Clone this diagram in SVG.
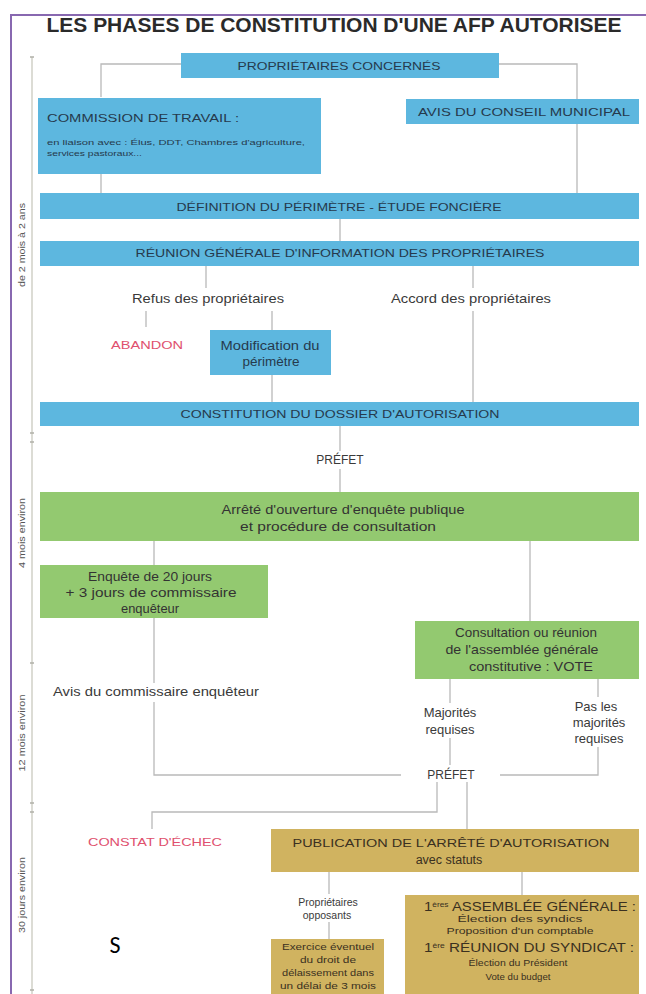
<svg xmlns="http://www.w3.org/2000/svg" width="646" height="994" viewBox="0 0 646 994">
<style>
text{font-family:"Liberation Sans",Arial,sans-serif;fill:#333;}
.t{font-weight:bold;font-size:20px;fill:#2a2a2a;}
.bl{fill:#5db7df;}
.gr{fill:#93c970;}
.go{fill:#d0b360;}
.bt{font-size:11.5px;fill:#263a4d;text-anchor:middle;}
.lt{font-size:13px;text-anchor:middle;fill:#3a3a3a;}
.sm{font-size:7.5px;fill:#263a4d;}
.red{font-size:11.5px;fill:#e0506e;text-anchor:middle;}
.gt{font-size:13px;text-anchor:middle;fill:#333;}
.ot{font-size:12.5px;text-anchor:middle;fill:#3a3020;}
.os{font-size:9.5px;text-anchor:middle;fill:#3a3020;}
.sl{font-size:10.5px;text-anchor:middle;fill:#3a3a3a;}
.tl{font-size:9.5px;fill:#555;text-anchor:middle;}
.ln{fill:none;stroke:#b9b9b9;stroke-width:1.3;}
</style>

<path d="M11,994 V15 H646" fill="none" stroke="#8868b0" stroke-width="2"/>
<text class="t" x="334" y="32" text-anchor="middle" textLength="575" lengthAdjust="spacingAndGlyphs">LES PHASES DE CONSTITUTION D'UNE AFP AUTORISEE</text>

<g id="timeline">
<path d="M32,57 V994" fill="none" stroke="#c9c9bf" stroke-width="1.3"/>
<path d="M30,57 h4 M30,433 h4 M30,442 h4 M30,663 h4 M30,803 h4 M30,812 h4 M30,990 h4" stroke="#b0b0a8" stroke-width="1.3"/>
<text class="tl" transform="translate(25,245) rotate(-90)" textLength="84" lengthAdjust="spacingAndGlyphs">de 2 mois à 2 ans</text>
<text class="tl" transform="translate(25,533) rotate(-90)" textLength="70" lengthAdjust="spacingAndGlyphs">4 mois environ</text>
<text class="tl" transform="translate(25,733) rotate(-90)" textLength="77" lengthAdjust="spacingAndGlyphs">12 mois environ</text>
<text class="tl" transform="translate(25,895) rotate(-90)" textLength="76" lengthAdjust="spacingAndGlyphs">30 jours environ</text>
</g>

<g id="connectors" class="ln">
<path d="M101,97 V64 H181"/>
<path d="M499,64 H577 V193"/>
<path d="M101,174 V193"/>
<path d="M340,219 V241"/>
<path d="M206,266 V288"/>
<path d="M473,266 V288"/>
<path d="M146,311 V327"/>
<path d="M272,311 V402"/>
<path d="M473,311 V402"/>
<path d="M340,426 V451"/>
<path d="M340,469 V492"/>
<path d="M154,541 V565"/>
<path d="M530,541 V621"/>
<path d="M154,618 V683"/>
<path d="M154,702 V775 H401"/>
<path d="M500,775 H598 V747"/>
<path d="M598,679 V697"/>
<path d="M450,679 V703"/>
<path d="M450,738 V765"/>
<path d="M437,782 V812 H152 V829"/>
<path d="M467,782 V829"/>
<path d="M329,872 V894"/>
<path d="M329,922 V939"/>
<path d="M522,872 V895"/>
</g>

<g id="proprietaires">
<rect class="bl" x="181" y="53" width="318" height="25"/>
<text class="bt" x="339" y="70" textLength="203" lengthAdjust="spacingAndGlyphs">PROPRIÉTAIRES CONCERNÉS</text>
</g>

<g id="commission">
<rect class="bl" x="38" y="98" width="283" height="76"/>
<text x="47" y="122" style="font-size:11.5px;fill:#263a4d" textLength="192" lengthAdjust="spacingAndGlyphs">COMMISSION DE TRAVAIL :</text>
<text class="sm" x="47" y="145" textLength="258" lengthAdjust="spacingAndGlyphs">en liaison avec : Élus, DDT, Chambres d'agriculture,</text>
<text class="sm" x="47" y="156" textLength="95" lengthAdjust="spacingAndGlyphs">services pastoraux...</text>
</g>

<g id="avis-conseil">
<rect class="bl" x="406" y="99" width="233" height="25"/>
<text class="bt" x="524" y="116" textLength="212" lengthAdjust="spacingAndGlyphs">AVIS DU CONSEIL MUNICIPAL</text>
</g>

<g id="definition">
<rect class="bl" x="40" y="193" width="599" height="26"/>
<text class="bt" x="339" y="211" textLength="325" lengthAdjust="spacingAndGlyphs">DÉFINITION DU PÉRIMÈTRE - ÉTUDE FONCIÈRE</text>
</g>

<g id="reunion">
<rect class="bl" x="40" y="241" width="599" height="25"/>
<text class="bt" x="340" y="257" textLength="409" lengthAdjust="spacingAndGlyphs">RÉUNION GÉNÉRALE D'INFORMATION DES PROPRIÉTAIRES</text>
</g>

<g id="refus">
<text class="lt" x="208" y="303" textLength="152" lengthAdjust="spacingAndGlyphs">Refus des propriétaires</text>
</g>

<g id="accord">
<text class="lt" x="471" y="303" textLength="160" lengthAdjust="spacingAndGlyphs">Accord des propriétaires</text>
</g>

<g id="abandon">
<text class="red" x="147" y="349" textLength="72" lengthAdjust="spacingAndGlyphs">ABANDON</text>
</g>

<g id="modification">
<rect class="bl" x="210" y="330" width="121" height="45"/>
<text class="gt" x="270" y="350" style="font-size:12.5px;fill:#263a4d" textLength="99" lengthAdjust="spacingAndGlyphs">Modification du</text>
<text class="gt" x="271" y="366" style="font-size:12.5px;fill:#263a4d" textLength="57" lengthAdjust="spacingAndGlyphs">périmètre</text>
</g>

<g id="constitution">
<rect class="bl" x="40" y="402" width="599" height="24"/>
<text class="bt" x="340" y="418" textLength="319" lengthAdjust="spacingAndGlyphs">CONSTITUTION DU DOSSIER D'AUTORISATION</text>
</g>

<g id="prefet-1">
<text class="lt" x="340" y="464" style="font-size:12px">PRÉFET</text>
</g>

<g id="arrete">
<rect class="gr" x="40" y="492" width="599" height="49"/>
<text class="gt" x="343" y="514" textLength="243" lengthAdjust="spacingAndGlyphs">Arrêté d'ouverture d'enquête publique</text>
<text class="gt" x="338" y="531" textLength="196" lengthAdjust="spacingAndGlyphs">et procédure de consultation</text>
</g>

<g id="enquete">
<rect class="gr" x="40" y="565" width="228" height="53"/>
<text class="gt" x="150" y="581" textLength="124" lengthAdjust="spacingAndGlyphs">Enquête de 20 jours</text>
<text class="gt" x="151" y="597" textLength="171" lengthAdjust="spacingAndGlyphs">+ 3 jours de commissaire</text>
<text class="gt" x="150" y="613" textLength="58" lengthAdjust="spacingAndGlyphs">enquêteur</text>
</g>

<g id="consultation">
<rect class="gr" x="415" y="621" width="224" height="58"/>
<text class="gt" x="526" y="637" textLength="142" lengthAdjust="spacingAndGlyphs">Consultation ou réunion</text>
<text class="gt" x="522" y="654" textLength="153" lengthAdjust="spacingAndGlyphs">de l'assemblée générale</text>
<text class="gt" x="531" y="671" textLength="124" lengthAdjust="spacingAndGlyphs">constitutive : VOTE</text>
</g>

<g id="avis-commissaire">
<text class="lt" x="156" y="696" textLength="206" lengthAdjust="spacingAndGlyphs">Avis du commissaire enquêteur</text>
</g>

<g id="majorites">
<text class="lt" x="450" y="717">Majorités</text>
<text class="lt" x="450" y="734">requises</text>
</g>

<g id="pas-majorites">
<text class="lt" x="596" y="711">Pas les</text>
<text class="lt" x="599" y="727">majorités</text>
<text class="lt" x="599" y="743">requises</text>
</g>

<g id="prefet-2">
<text class="lt" x="451" y="779" style="font-size:12px">PRÉFET</text>
</g>

<g id="constat-echec">
<text class="red" x="155" y="846" textLength="134" lengthAdjust="spacingAndGlyphs">CONSTAT D'ÉCHEC</text>
</g>

<g id="publication">
<rect class="go" x="271" y="829" width="368" height="43"/>
<text class="ot" x="451" y="847" style="font-size:11.5px" textLength="317" lengthAdjust="spacingAndGlyphs">PUBLICATION DE L'ARRÊTÉ D'AUTORISATION</text>
<text class="ot" x="449" y="864" style="font-size:12.5px">avec statuts</text>
</g>

<g id="opposants">
<text class="sl" x="328" y="906">Propriétaires</text>
<text class="sl" x="327" y="919">opposants</text>
</g>

<g id="assemblee">
<rect class="go" x="405" y="895" width="234" height="99"/>
<text class="ot" x="530" y="911" textLength="212" lengthAdjust="spacingAndGlyphs">1<tspan style="font-size:7px" dy="-4">ères</tspan><tspan dy="4"> ASSEMBLÉE GÉNÉRALE :</tspan></text>
<text class="os" x="520" y="922" textLength="125" lengthAdjust="spacingAndGlyphs">Élection des syndics</text>
<text class="os" x="520" y="934" textLength="147" lengthAdjust="spacingAndGlyphs">Proposition d'un comptable</text>
<text class="ot" x="529" y="952" textLength="210" lengthAdjust="spacingAndGlyphs">1<tspan style="font-size:7px" dy="-4">ère</tspan><tspan dy="4"> RÉUNION DU SYNDICAT :</tspan></text>
<text class="os" x="518" y="966" textLength="99" lengthAdjust="spacingAndGlyphs">Élection du Président</text>
<text class="os" x="518" y="980" textLength="65" lengthAdjust="spacingAndGlyphs">Vote du budget</text>
</g>

<g id="exercice">
<rect class="go" x="271" y="939" width="113" height="55"/>
<text class="os" x="328" y="950" textLength="92" lengthAdjust="spacingAndGlyphs">Exercice éventuel</text>
<text class="os" x="328" y="963" textLength="56" lengthAdjust="spacingAndGlyphs">du droit de</text>
<text class="os" x="328" y="976" textLength="92" lengthAdjust="spacingAndGlyphs">délaissement dans</text>
<text class="os" x="328" y="989" textLength="96" lengthAdjust="spacingAndGlyphs">un délai de 3 mois</text>
</g>

<text x="115" y="953" style="font-family:Carlito,'Open Sans',sans-serif;font-size:24px;fill:#000" text-anchor="middle">S</text>
</svg>
